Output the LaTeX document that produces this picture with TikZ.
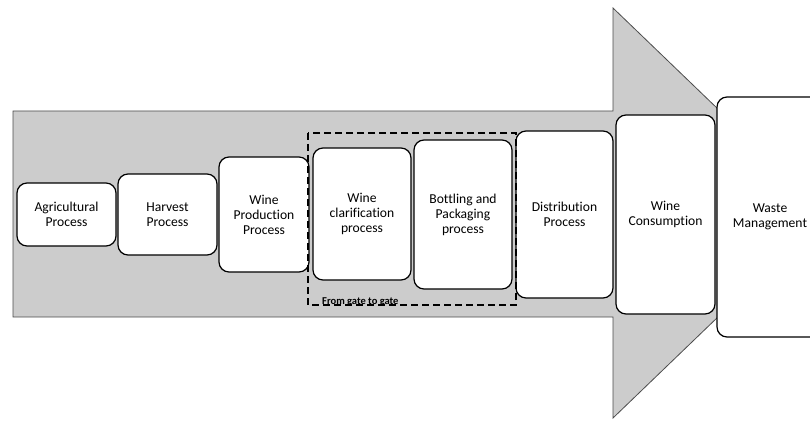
\documentclass[tikz,border=0pt]{standalone}
\usepackage{fontspec}
\setmainfont{Carlito}[Ligatures=NoCommon]
\begin{document}
\begin{tikzpicture}[x=1pt, y=-1pt, font=\fontsize{13.6}{15}\selectfont,
  stage/.style={draw, line width=1.2pt, fill=white, rounded corners=10pt, align=center, inner sep=2pt}]
  \useasboundingbox (0,0) rectangle (810,422);
  % big arrow in the background
  \filldraw[fill=gray!40, draw=gray!60!black, line width=0.8pt] (13,111) -- (613,111) -- (613,8) -- (826,213) -- (613,418) -- (613,317) -- (13,317) -- cycle;
  % life cycle stages
  \node[stage, minimum width=99pt, minimum height=63pt] (agri) at (66.5,214.5) {Agricultural\\Process};
  \node[stage, minimum width=99pt, minimum height=81pt] (harv) at (167.5,214.5) {Harvest\\Process};
  \node[stage, minimum width=90pt, minimum height=115pt] (prod) at (264,214.5) {Wine\\Production\\Process};
  \node[stage, minimum width=98pt, minimum height=132pt] (clar) at (362,214) {Wine\\clarification\\process};
  \node[stage, minimum width=98pt, minimum height=149pt] (bott) at (463,214.5) {Bottling and\\Packaging\\process};
  \node[stage, minimum width=97pt, minimum height=167pt] (dist) at (564.5,214.5) {Distribution\\Process};
  \node[stage, minimum width=99pt, minimum height=199pt] (cons) at (665.5,214.5) {Wine\\Consumption};
  \node[stage, minimum width=106pt, minimum height=240pt] (waste) at (770,217) {Waste\\Management};
  % gate to gate frame
  \draw[line width=1.2pt, dash pattern=on 7pt off 4pt] (308,133) rectangle (516,305);
  \node[anchor=base west, font=\fontsize{10.5}{12}\selectfont\bfseries, inner sep=0pt] (gate) at (322,304) {From gate to gate};
\end{tikzpicture}
\end{document}
